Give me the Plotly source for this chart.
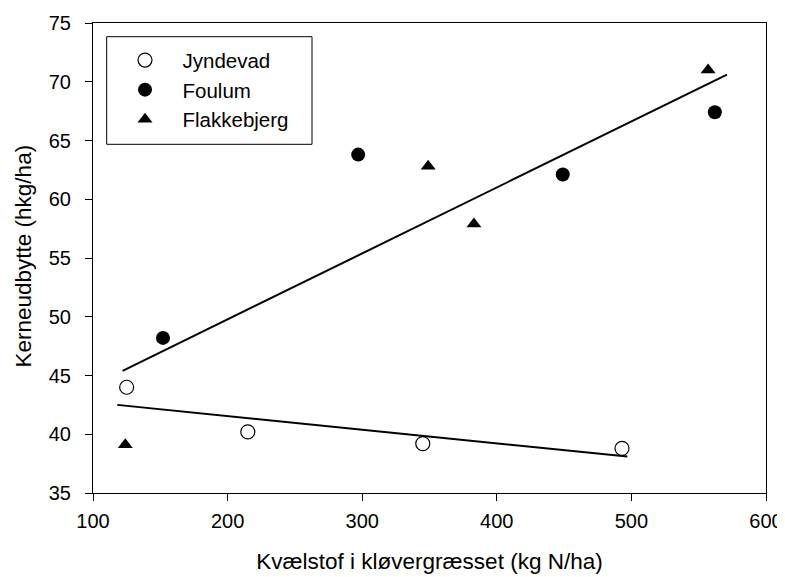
import plotly.graph_objects as go

# Data
jyn_x = [125, 215, 345, 493]
jyn_y = [44.0, 40.2, 39.2, 38.8]

fou_x = [152, 297, 449, 562]
fou_y = [48.2, 63.8, 62.1, 67.4]

fla_x = [124, 349, 383, 557]
fla_y = [39.1, 62.8, 57.9, 71.0]

# Regression line endpoints
fit_up_x = [122, 571]
fit_up_y = [45.4, 70.6]
fit_lo_x = [118, 497]
fit_lo_y = [42.5, 38.1]

FONT = "Liberation Sans, Arial, sans-serif"

fig = go.Figure()
fig.add_trace(go.Scatter(x=fit_up_x, y=fit_up_y, mode="lines",
                         line=dict(color="black", width=2), showlegend=False, hoverinfo="skip"))
fig.add_trace(go.Scatter(x=fit_lo_x, y=fit_lo_y, mode="lines",
                         line=dict(color="black", width=2), showlegend=False, hoverinfo="skip"))
fig.add_trace(go.Scatter(x=jyn_x, y=jyn_y, mode="markers", name="Jyndevad",
                         marker=dict(symbol="circle", size=14, color="white",
                                     line=dict(color="black", width=1.2))))
fig.add_trace(go.Scatter(x=fou_x, y=fou_y, mode="markers", name="Foulum",
                         marker=dict(symbol="circle", size=14, color="black",
                                     line=dict(color="black", width=0))))
fig.add_trace(go.Scatter(x=fla_x, y=fla_y, mode="markers", name="Flakkebjerg",
                         marker=dict(symbol="triangle-up", size=13, color="black",
                                     line=dict(color="black", width=0))))

# the page places the figure 8px in from the top-left corner (body margin)
OFF = 8
W, H = 785, 577
# plot area in page pixels, as measured on the reference
PL, PR, PT, PB = 93, 766, 23, 493
PW, PH = PR - PL, PB - PT

fig.update_layout(
    width=W, height=H,
    margin=dict(l=PL - OFF, r=W - (PR - OFF), t=PT - OFF, b=H - (PB - OFF), autoexpand=False),
    paper_bgcolor="white", plot_bgcolor="white",
    font=dict(family=FONT, color="black", size=20),
    legend=dict(x=(107.5 - PL) / PW, y=1 - 17.2 / PH, xanchor="left", yanchor="top",
                bgcolor="rgba(0,0,0,0)", borderwidth=0,
                font=dict(size=20.5, family=FONT), itemwidth=65),
    shapes=[dict(type="rect", xref="paper", yref="paper",
                 x0=(106.7 - PL) / PW, x1=(312 - PL) / PW,
                 y0=(PB - 144.3) / PH, y1=(PB - 36.7) / PH,
                 line=dict(color="black", width=1), fillcolor="rgba(0,0,0,0)")],
    annotations=[dict(text="Kerneudbytte (hkg/ha)", textangle=-90,
                      xref="paper", yref="paper", x=0, y=(PB - 256.5) / PH,
                      xanchor="center", yanchor="middle", xshift=23 - PL,
                      showarrow=False, font=dict(size=22.5, family=FONT, color="black"))],
)
fig.update_xaxes(range=[100, 600], dtick=100, tick0=100, showgrid=False, zeroline=False,
                 automargin=False,
                 showline=True, linecolor="black", linewidth=1, mirror=True,
                 ticks="outside", ticklen=7, tickcolor="black", tickwidth=1,
                 tickfont=dict(size=20, family=FONT), ticklabelstandoff=3,
                 title=dict(text="Kvælstof i kløvergræsset (kg N/ha)",
                            font=dict(size=22.5, family=FONT), standoff=22))
fig.update_yaxes(range=[35, 75], dtick=5, tick0=35, showgrid=False, zeroline=False,
                 automargin=False,
                 showline=True, linecolor="black", linewidth=1, mirror=True,
                 ticks="outside", ticklen=7, tickcolor="black", tickwidth=1,
                 tickfont=dict(size=20, family=FONT), ticklabelstandoff=10)

fig.write_html("out.html")
